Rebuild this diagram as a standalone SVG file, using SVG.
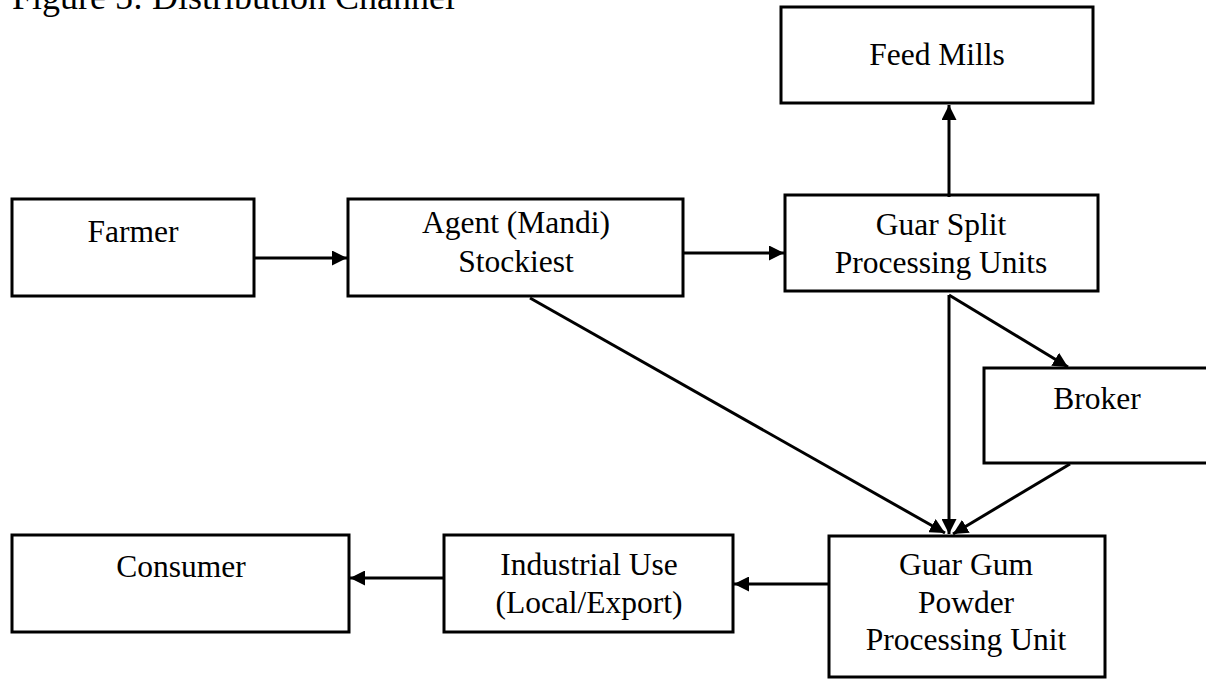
<svg xmlns="http://www.w3.org/2000/svg" width="1206" height="679" viewBox="0 0 1206 679">
  <style>
    .box { fill: #ffffff; stroke: #000000; stroke-width: 3; }
    .label { font-family: "Liberation Serif", "Times New Roman", serif; font-size: 31.5px; fill: #000000; text-anchor: middle; }
    .title { font-family: "Liberation Serif", "Times New Roman", serif; font-size: 36px; fill: #000000; }
    .edge { fill: none; stroke: #000000; stroke-width: 3; }
  </style>
  <defs>
    <marker id="arrow" viewBox="0 0 10 10" refX="10" refY="5" markerWidth="5" markerHeight="5" markerUnits="strokeWidth" orient="auto">
      <path d="M0,0 L10,5 L0,10 Z" fill="#000000"/>
    </marker>
  </defs>
  <rect width="1206" height="679" fill="#ffffff"/>

  <text class="title" x="12" y="9">Figure 5: Distribution Channel</text>

  <g id="feed-mills">
    <rect class="box" x="781" y="7" width="312" height="96"/>
    <text class="label" x="937" y="65">Feed Mills</text>
  </g>

  <g id="farmer">
    <rect class="box" x="12" y="199" width="242" height="97"/>
    <text class="label" x="133" y="242">Farmer</text>
  </g>

  <g id="agent">
    <rect class="box" x="348" y="199" width="335" height="97"/>
    <text class="label" x="516" y="233">Agent (Mandi)</text>
    <text class="label" x="516" y="272">Stockiest</text>
  </g>

  <g id="guar-split">
    <rect class="box" x="785" y="195" width="313" height="96"/>
    <text class="label" x="941" y="235">Guar Split</text>
    <text class="label" x="941" y="273">Processing Units</text>
  </g>

  <g id="broker">
    <rect class="box" x="984" y="368" width="230" height="95"/>
    <text class="label" x="1097" y="409">Broker</text>
  </g>

  <g id="guar-gum-powder">
    <rect class="box" x="829" y="536" width="276" height="141"/>
    <text class="label" x="966" y="575">Guar Gum</text>
    <text class="label" x="966" y="613">Powder</text>
    <text class="label" x="966" y="650">Processing Unit</text>
  </g>

  <g id="industrial-use">
    <rect class="box" x="444" y="535" width="289" height="97"/>
    <text class="label" x="589" y="575">Industrial Use</text>
    <text class="label" x="589" y="613">(Local/Export)</text>
  </g>

  <g id="consumer">
    <rect class="box" x="12" y="535" width="337" height="97"/>
    <text class="label" x="181" y="577">Consumer</text>
  </g>

  <g id="connectors">
    <line class="edge" x1="254" y1="258" x2="347" y2="258" marker-end="url(#arrow)"/>
    <line class="edge" x1="683" y1="253" x2="784" y2="253" marker-end="url(#arrow)"/>
    <line class="edge" x1="949" y1="197" x2="949" y2="105" marker-end="url(#arrow)"/>
    <line class="edge" x1="949" y1="295" x2="949" y2="534" marker-end="url(#arrow)"/>
    <line class="edge" x1="949" y1="295" x2="1068" y2="367" marker-end="url(#arrow)"/>
    <line class="edge" x1="1070" y1="464" x2="953" y2="534" marker-end="url(#arrow)"/>
    <line class="edge" x1="530" y1="298" x2="945" y2="533" marker-end="url(#arrow)"/>
    <line class="edge" x1="829" y1="584" x2="734" y2="584" marker-end="url(#arrow)"/>
    <line class="edge" x1="444" y1="578" x2="350" y2="578" marker-end="url(#arrow)"/>
  </g>
</svg>
